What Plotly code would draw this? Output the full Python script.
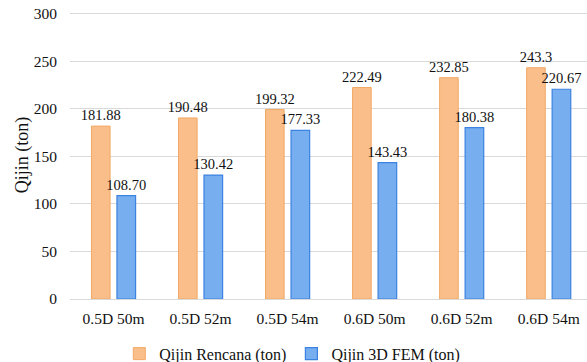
import plotly.graph_objects as go

categories = ["0.5D 50m", "0.5D 52m", "0.5D 54m", "0.6D 50m", "0.6D 52m", "0.6D 54m"]
rencana = [181.88, 190.48, 199.32, 222.49, 232.85, 243.3]
fem = [108.70, 130.42, 177.33, 143.43, 180.38, 220.67]
rencana_labels = ["181.88", "190.48", "199.32", "222.49", "232.85", "243.3"]
fem_labels = ["108.70", "130.42", "177.33", "143.43", "180.38", "220.67"]
y_ticks = [0, 50, 100, 150, 200, 250, 300]

font = "Liberation Serif"

fig = go.Figure()
fig.add_trace(go.Bar(
    x=categories, y=rencana, name="Qijin Rencana (ton)",
    text=rencana_labels, textposition="outside", cliponaxis=False,
    constraintext="none",
    textfont=dict(family=font, size=14.5, color="#111111"),
    marker=dict(color="#F9BE8A", line=dict(color="#F3A865", width=1)),
))
fig.add_trace(go.Bar(
    x=categories, y=fem, name="Qijin 3D FEM (ton)",
    text=fem_labels, textposition="outside", cliponaxis=False,
    constraintext="none",
    textfont=dict(family=font, size=14.5, color="#111111"),
    marker=dict(color="#76AEF0", line=dict(color="#3C82E0", width=1.2)),
))

fig.update_layout(
    width=587, height=362,
    margin=dict(l=70, r=0, t=11, b=63, autoexpand=False),
    paper_bgcolor="white", plot_bgcolor="white",
    barmode="group", bargap=0.414, bargroupgap=0.27,
    font=dict(family=font, size=15, color="#111111"),
    showlegend=True,
    legend=dict(orientation="h", x=0.43, xanchor="center", y=-0.19, yanchor="middle",
                font=dict(family=font, size=16), itemwidth=30, traceorder="normal"),
)
fig.update_xaxes(
    type="category", range=[-0.5, 5.44], showgrid=False, showline=False,
    ticks="", tickfont=dict(family=font, size=15.5), automargin=False,
    ticklabelstandoff=8,
)
fig.update_yaxes(
    range=[0, 303], tickvals=y_ticks,
    showgrid=True, gridcolor="#D9D9D9", gridwidth=1,
    zeroline=True, zerolinecolor="#D9D9D9", zerolinewidth=1,
    showline=False, ticks="outside", ticklen=9, tickcolor="rgba(0,0,0,0)",
    tickfont=dict(family=font, size=15.5), automargin=False,
    ticklabeloverflow="allow",
    title=dict(text="Qijin (ton)", font=dict(family=font, size=18), standoff=0),
)

# remove the browser's default 8px page margin so the figure fills the window
fig.write_html("out.html", config={"displayModeBar": False},
               post_script="document.body.style.margin='0';")
